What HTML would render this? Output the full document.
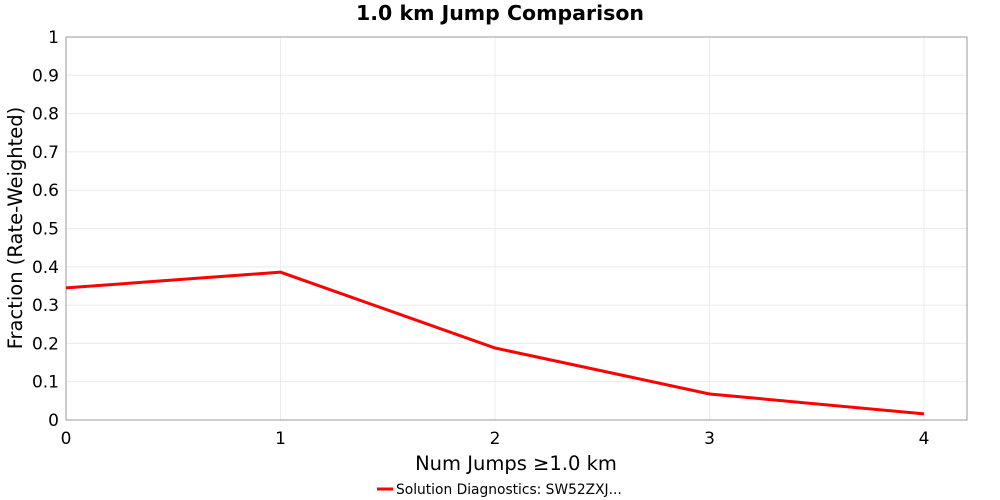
<!DOCTYPE html>
<html><head><meta charset="utf-8"><style>
body{margin:0;background:#fff;}
svg{display:block;font-family:"DejaVu Sans","Liberation Sans",sans-serif;}
</style></head><body>
<svg id="chart" width="1000" height="500">
<text x="500" y="20" text-anchor="middle" font-size="20.5" font-weight="bold">1.0 km Jump Comparison</text>
<g id="grid"></g>
<rect x="66" y="37" width="901" height="383" fill="none" stroke="#999"/>
<g id="ticks"></g>
<text x="516" y="470" text-anchor="middle" font-size="19.5">Num Jumps ≥1.0 km</text>
<text transform="translate(22,228) rotate(-90)" text-anchor="middle" font-size="19.5">Fraction (Rate-Weighted)</text>
<polyline id="line" fill="none" stroke="#f00" stroke-width="3"/>
<g>
<line x1="377" y1="489" x2="393" y2="489" stroke="#f00" stroke-width="3"/>
<text x="396" y="494" font-size="13.8">Solution Diagnostics: SW52ZXJ...</text>
</g>
</svg>
<script>
const categories=[0,1,2,3,4];
const values=[0.345,0.386,0.188,0.068,0.016];
const xTicks=[0,1,2,3,4];
const yTicks=[0,0.1,0.2,0.3,0.4,0.5,0.6,0.7,0.8,0.9,1];
const NS="http://www.w3.org/2000/svg";
const X=v=>66+v*214.5, Y=v=>420-v*383;
const grid=document.getElementById('grid'), ticks=document.getElementById('ticks');
function mk(tag,attrs,parent){const e=document.createElementNS(NS,tag);for(const k in attrs)e.setAttribute(k,attrs[k]);parent.appendChild(e);return e;}
yTicks.forEach(t=>{
  const g=mk('line',{x1:66,x2:967,y1:Y(t),y2:Y(t),stroke:'#ececec'},grid);
  
  
  const tx=mk('text',{x:59,y:Y(t)+6,'text-anchor':'end','font-size':17},ticks);
  tx.textContent=t===0?'0':t===1?'1':t.toFixed(1);
  
  
});
xTicks.forEach(t=>{
  const g=mk('line',{x1:X(t),x2:X(t),y1:37,y2:420,stroke:'#ececec'},grid);
  
  
  const tx=mk('text',{x:X(t),y:444,'text-anchor':'middle','font-size':17},ticks);
  tx.textContent=t;
  
  
});
document.getElementById('line').setAttribute('points',categories.map((c,i)=>X(c)+','+Y(values[i])).join(' '));
</script>
</body></html>
